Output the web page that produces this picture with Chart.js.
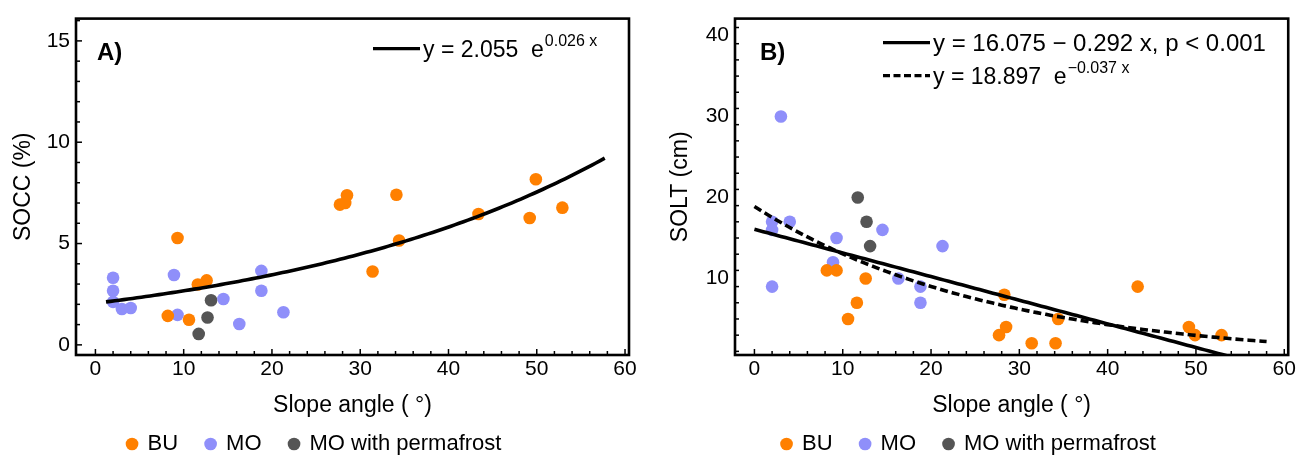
<!DOCTYPE html>
<html>
<head>
<meta charset="utf-8">
<script src="https://cdn.jsdelivr.net/npm/chart.js@4.4.1/dist/chart.umd.min.js"></script>
<style>
  html, body { margin: 0; padding: 0; background: #fff; }
  .wrap { display: flex; width: 1298px; height: 456px; }
  .box { position: relative; width: 649px; height: 456px; }
</style>
</head>
<body>
<div class="wrap">
  <div class="box"><canvas id="socc"></canvas></div>
  <div class="box"><canvas id="solt"></canvas></div>
</div>
<script>
// slope angle (deg) per sampling point, by group
const slopeBU = [8.2, 9.3, 10.6, 11.6, 12.6, 27.7, 28.3, 28.5, 31.4, 34.1, 34.4, 43.4, 49.2, 49.9, 52.9];
const slopeMO = [2.0, 2.0, 2.0, 3.0, 4.0, 8.9, 9.3, 14.5, 16.3, 18.8, 18.8, 21.3];
const slopeMOpf = [11.7, 12.7, 13.1];

// soil organic carbon content (%)
const soccBU = [1.43, 5.27, 1.24, 2.98, 3.18, 6.92, 7.0, 7.38, 3.62, 7.41, 5.15, 6.46, 6.26, 8.17, 6.77];
const soccMO = [3.31, 2.67, 2.12, 1.77, 1.82, 3.45, 1.48, 2.26, 1.03, 3.65, 2.67, 1.61];
const soccMOpf = [0.54, 1.35, 2.2];

// soil organic layer thickness (cm)
const soltBU = [11, 11, 5, 7, 10, 3, 8, 4, 2, 2, 5, 9, 4, 3, 3];
const soltMO = [17, 16, 9, 30, 17, 12, 15, 16, 10, 9, 7, 14];
const soltMOpf = [20, 17, 14];

// fitted models (coefficients as printed on the chart)
const fitSoccExp = [2.055, 0.026];
const fitSoltLin = [16.075, -0.292];
const fitSoltExp = [18.897, -0.037];

const groups = ['BU', 'MO', 'MO with permafrost'];
const xTicks = [0, 10, 20, 30, 40, 50, 60];
const yTicksSocc = [0, 5, 10, 15];
const yTicksSolt = [10, 20, 30, 40];

const colors = ['rgb(255,128,0)', 'rgb(143,143,250)', 'rgb(85,85,85)'];
const FONT = 'Liberation Sans, Arial, Helvetica, sans-serif';

function pairs(xs, ys) {
    return xs.map((v, i) => ({ x: v, y: ys[i] }));
}

function curve(fn, from, to) {
    const pts = [];
    for (let v = from; v <= to + 1e-9; v += 0.5) pts.push({ x: v, y: fn(v) });
    return pts;
}

function scatterSet(label, data, color) {
    return {
        type: 'scatter', label: label, data: data,
        backgroundColor: color, borderWidth: 0,
        pointRadius: 6.3, pointStyle: 'circle', order: 1
    };
}

function fitSet(data, dashed) {
    return {
        type: 'line', label: 'fit', data: data,
        borderColor: '#000', borderWidth: 3.6, borderDash: dashed ? [8, 4] : [],
        pointRadius: 0, fill: false, tension: 0, clip: 0, order: 0
    };
}

// frame with inward ticks, panel letter and equation key
const framePlugin = {
    id: 'frame',
    afterDatasetsDraw(chart, args, opts) {
        const { ctx, chartArea: a, scales: { x, y } } = chart;
        ctx.save();
        ctx.strokeStyle = '#000';
        ctx.lineWidth = 1.5;
        for (let v = xTicks[0]; v <= xTicks[xTicks.length - 1]; v += 2) {
            const px = x.getPixelForValue(v);
            const len = v % 10 === 0 ? 6 : 4;
            ctx.beginPath(); ctx.moveTo(px, a.bottom); ctx.lineTo(px, a.bottom - len); ctx.stroke();
        }
        for (let v = Math.ceil(y.min); v <= y.max; v += opts.yMinor) {
            const py = y.getPixelForValue(v);
            const len = v % opts.yMajor === 0 ? 6 : 4;
            ctx.beginPath(); ctx.moveTo(a.left, py); ctx.lineTo(a.left + len, py); ctx.stroke();
        }
        ctx.lineWidth = 2.6;
        ctx.strokeRect(a.left, a.top, a.width, a.height);

        ctx.fillStyle = '#000';
        ctx.font = 'bold 24px ' + FONT;
        ctx.textBaseline = 'alphabetic';
        ctx.fillText(opts.letter, a.left + opts.letterX, a.top + 41);

        opts.keys.forEach(k => {
            const ky = a.top + k.dy;
            ctx.lineWidth = 3.4;
            ctx.setLineDash(k.dashed ? [7, 3.5] : []);
            ctx.beginPath(); ctx.moveTo(a.left + k.dx, ky); ctx.lineTo(a.left + k.dx + 47, ky); ctx.stroke();
            ctx.setLineDash([]);
            ctx.font = k.size + 'px ' + FONT;
            let tx = a.left + k.dx + 50;
            ctx.fillText(k.text, tx, ky + 8);
            if (k.sup) {
                tx += ctx.measureText(k.text).width + 1;
                ctx.font = '16px ' + FONT;
                ctx.fillText(k.sup, tx, ky - 3);
            }
        });
        ctx.restore();
    }
};

function makeChart(id, sets, yMin, yMax, yTicks, yTitle, yWidth, yTitlePad, padRight, frameOpts) {
    const font = { family: FONT, size: 21 };
    const titleFont = { family: FONT, size: 23 };
    return new Chart(document.getElementById(id), {
        data: { datasets: sets },
        options: {
            responsive: true, maintainAspectRatio: false, animation: false,
            layout: { padding: { top: 15, right: padRight, left: 0, bottom: 0 } },
            scales: {
                x: {
                    type: 'linear', min: -2.2, max: 60.45,
                    afterBuildTicks: s => { s.ticks = xTicks.map(v => ({ value: v })); },
                    afterFit: s => {
                        const lh = s.chart.legend ? s.chart.legend.height : 0;
                        s.height = s.chart.height - lh - 355;
                    },
                    ticks: { font: font, color: '#000', padding: 2, maxRotation: 0 },
                    grid: { display: false, drawTicks: false },
                    border: { display: false },
                    title: { display: true, text: 'Slope angle ( °)', font: titleFont, color: '#000', padding: { top: 0, bottom: -14 } }
                },
                y: {
                    type: 'linear', min: yMin, max: yMax,
                    afterBuildTicks: s => { s.ticks = yTicks.map(v => ({ value: v })); },
                    afterFit: s => { s.width = yWidth; },
                    ticks: { font: font, color: '#000', padding: 6 },
                    grid: { display: false, drawTicks: false },
                    border: { display: false },
                    title: { display: true, text: yTitle, font: titleFont, color: '#000', padding: { top: yTitlePad, bottom: 0 } }
                }
            },
            plugins: {
                legend: {
                    position: 'bottom', maxHeight: 51,
                    labels: {
                        usePointStyle: true, boxWidth: 9, boxHeight: 9, padding: 28,
                        font: { family: FONT, size: 22 }, color: '#000',
                        filter: item => item.datasetIndex < 3
                    }
                },
                tooltip: { enabled: false },
                frame: frameOpts
            }
        },
        plugins: [framePlugin]
    });
}

makeChart('socc', [
    scatterSet(groups[0], pairs(slopeBU, soccBU), colors[0]),
    scatterSet(groups[1], pairs(slopeMO, soccMO), colors[1]),
    scatterSet(groups[2], pairs(slopeMOpf, soccMOpf), colors[2]),
    fitSet(curve(v => fitSoccExp[0] * Math.exp(fitSoccExp[1] * v), 1.2, 58), false)
], -0.5, 16.1, yTicksSocc, 'SOCC (%)', 76, 10, 20, {
    letter: 'A)', letterX: 21, yMinor: 1, yMajor: 5,
    keys: [{ dx: 297, dy: 30, size: 23, text: 'y = 2.055  e', sup: '0.026 x', dashed: false }]
});

makeChart('solt', [
    scatterSet(groups[0], pairs(slopeBU, soltBU), colors[0]),
    scatterSet(groups[1], pairs(slopeMO, soltMO), colors[1]),
    scatterSet(groups[2], pairs(slopeMOpf, soltMOpf), colors[2]),
    fitSet(curve(v => fitSoltLin[0] + fitSoltLin[1] * v, 0, 58), false),
    fitSet(curve(v => fitSoltExp[0] * Math.exp(fitSoltExp[1] * v), 0, 58), true)
], 0.55, 42.1, yTicksSolt, 'SOLT (cm)', 86, 18, 9, {
    letter: 'B)', letterX: 25, yMinor: 2, yMajor: 10,
    keys: [
        { dx: 148, dy: 24, size: 24, text: 'y = 16.075 \u2212 0.292 x, p < 0.001', sup: null, dashed: false },
        { dx: 148, dy: 57, size: 23, text: 'y = 18.897  e', sup: '\u22120.037 x', dashed: true }
    ]
});
</script>
</body>
</html>
